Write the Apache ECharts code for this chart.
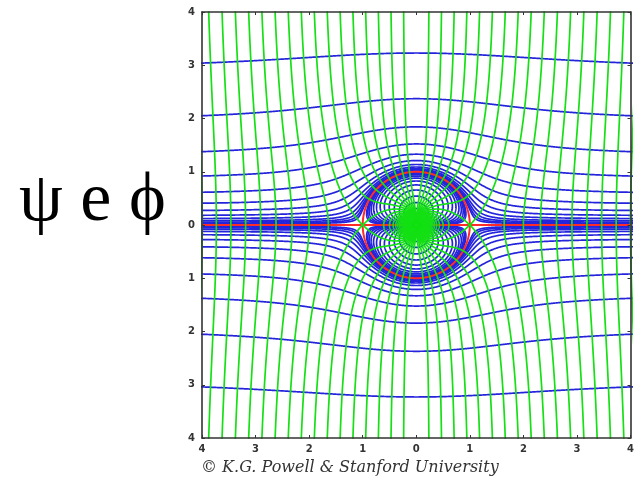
<!DOCTYPE html>
<html><head><meta charset="utf-8">
<script src="https://cdn.jsdelivr.net/npm/echarts@6/dist/echarts.min.js"></script>
<style>html,body{margin:0;padding:0;background:#fff}#c{width:637px;height:479px}</style>
</head><body><div id="c"></div>
<script>
// ---- data ----
const axisTicks = [-4, -3, -2, -1, 0, 1, 2, 3, 4];
// stream-function (psi) contour levels, positive half (mirrored for negative)
const psiLevels = [0.0225, 0.034, 0.051, 0.076, 0.114, 0.171, 0.256, 0.384, 0.577, 0.865, 1.30, 1.95, 2.92, 4.38, 6.57, 9.85];
// velocity-potential (phi) contour interval and extent
const phiLevelStep = 0.25;
const phiLevelMax = 40;
// dividing streamline psi = 0 (red) and the cylinder radius
const cylinderRadius = 1;
const titleText = 'ψ e ϕ';
const creditText = '© K.G. Powell & Stanford University';

// ---- tracing of the contour lines of the plotted fields ----
// psi = y (1 - 1/r^2), phi = x (1 + 1/r^2)
function solveOuterY(x, c) {
  let lo = Math.abs(x) < 1 ? Math.sqrt(1 - x * x) : 0;
  let hi = c + 2;
  for (let i = 0; i < 50; i++) {
    const m = (lo + hi) / 2;
    const g = m - m / (x * x + m * m) - c;
    if (g > 0) hi = m; else lo = m;
  }
  return (lo + hi) / 2;
}
const xs = [];
for (let x = -4.3; x <= 4.3 + 1e-9;) {
  xs.push(x);
  const d = Math.abs(Math.abs(x) - 1);
  x += d < 0.2 ? 0.002 : 0.01;
}
const psiPolylines = [];
psiLevels.forEach(c => {
  const outer = xs.map(x => [x, solveOuterY(x, c)]);
  psiPolylines.push(outer, outer.map(p => [p[0], -p[1]]));
  const N = 300, inner = [];
  for (let i = 0; i <= N; i++) {
    const th = Math.PI + Math.PI * i / N;
    const s = Math.sin(th);
    let r = 0;
    if (i > 0 && i < N) { const k = c / s; r = 2 / (Math.sqrt(k * k + 4) - k); }
    inner.push([r * Math.cos(th), r * Math.sin(th)]);
  }
  psiPolylines.push(inner, inner.map(p => [p[0], -p[1]]));
});

function phiCurves(c) {
  const R = 6.5, out = [];
  const pt = r => { const x = c * r * r / (1 + r * r); return [x, Math.sqrt(Math.max(0, r * r - x * x))]; };
  const both = up => up.slice().reverse().map(p => [p[0], -p[1]]).concat(up);
  if (c === 0) { out.push([[0, -5], [0, 5]]); return out; }
  if (c <= 2) {
    const M = 1000, up = [];
    for (let i = 0; i <= M; i++) up.push(pt(R * i / M));
    out.push(up.slice().reverse().map(p => [p[0], -p[1]]).concat(up.slice(1)));
    return out;
  }
  const q = Math.sqrt(c * c - 4), r1 = (c - q) / 2, r2 = (c + q) / 2;
  const Ni = 120, upIn = [];
  for (let i = 0; i <= Ni; i++) { const s = i / Ni; upIn.push(pt(r1 * (1 - (1 - s) * (1 - s)))); }
  upIn[Ni] = [r1, 0];
  out.push(upIn.concat(upIn.slice(0, Ni).reverse().map(p => [p[0], -p[1]])));
  if (r2 < 4.6) {
    const No = 500, upOut = [];
    for (let i = 0; i <= No; i++) { const s = i / No; upOut.push(pt(r2 + (R - r2) * s * s)); }
    upOut[0] = [r2, 0];
    out.push(both(upOut));
  }
  return out;
}
const phiPolylines = [];
const nPhi = Math.round(phiLevelMax / phiLevelStep);
for (let j = 0; j <= nPhi; j++) {
  const c = j * phiLevelStep;
  phiCurves(c).forEach(pl => {
    phiPolylines.push(pl);
    if (j > 0) phiPolylines.push(pl.map(p => [-p[0], p[1]]));
  });
}
const redPolylines = [[[-4.5, 0], [4.5, 0]]];
const circ = [];
for (let i = 0; i <= 360; i++) { const t = i * Math.PI / 180; circ.push([cylinderRadius * Math.cos(t), cylinderRadius * Math.sin(t)]); }
redPolylines.push(circ);

function trim(pl) { return pl.filter(p => Math.abs(p[0]) <= 4.6 && Math.abs(p[1]) <= 4.6); }
const toData = arr => arr.map(trim).filter(pl => pl.length > 1).map(pl => ({ coords: pl }));

const axisCommon = {
  type: 'value', min: -4, max: 4, interval: 1, z: 10,
  axisLine: { show: true, onZero: false, lineStyle: { color: '#333', width: 1.6 } },
  axisTick: { show: true, inside: true, length: 3, lineStyle: { color: '#333' } },
  splitLine: { show: false }
};
const labelStyle = { color: '#333', fontSize: 10, fontWeight: 'bold', fontFamily: 'DejaVu Sans',
  formatter: v => String(Math.abs(v)) };

const chart = echarts.init(document.getElementById('c'), null, { renderer: 'canvas' });
chart.setOption({
  animation: false,
  backgroundColor: '#fff',
  grid: { left: 202, right: 5, top: 12, bottom: 41, show: false },
  xAxis: [
    Object.assign({}, axisCommon, { position: 'bottom', axisLabel: Object.assign({ margin: 6 }, labelStyle) }),
    Object.assign({}, axisCommon, { position: 'top', axisLabel: { show: false } })
  ],
  yAxis: [
    Object.assign({}, axisCommon, { position: 'left', axisLabel: Object.assign({ margin: 7 }, labelStyle) }),
    Object.assign({}, axisCommon, { position: 'right', axisLabel: { show: false } })
  ],
  series: [
    { type: 'lines', coordinateSystem: 'cartesian2d', polyline: true, clip: true, silent: true, z: 2,
      lineStyle: { color: '#2424dc', width: 1.7, opacity: 1 }, data: toData(psiPolylines) },
    { type: 'lines', coordinateSystem: 'cartesian2d', polyline: true, clip: true, silent: true, z: 3,
      lineStyle: { color: '#ff2a2a', width: 2, opacity: 1 }, data: toData(redPolylines) },
    { type: 'lines', coordinateSystem: 'cartesian2d', polyline: true, clip: true, silent: true, z: 4,
      lineStyle: { color: '#14e014', width: 1.7, opacity: 1 }, data: toData(phiPolylines) }
  ],
  graphic: [
    { type: 'text', left: 19, top: 167, silent: true,
      style: { text: titleText, font: '70px "Liberation Serif"', fill: '#000' } },
    { type: 'text', left: 201, top: 460, silent: true,
      style: { text: creditText, font: 'italic 16px "DejaVu Serif"', fill: '#333' } }
  ]
});
</script>
</body></html>
